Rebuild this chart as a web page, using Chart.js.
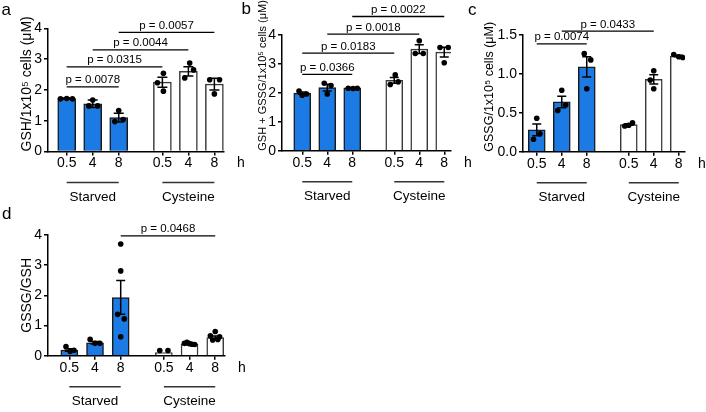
<!DOCTYPE html>
<html><head><meta charset="utf-8">
<script src="https://cdn.jsdelivr.net/npm/chart.js@4"></script>
<style>
html,body{margin:0;padding:0;background:#fff;}
#wrap{position:relative;width:706px;height:412px;overflow:hidden;background:#fff;}
canvas{position:absolute;}
</style></head><body>
<div id="wrap">
<canvas id="ca" style="left:0px;top:0px" width="250" height="212"></canvas>
<canvas id="cb" style="left:235px;top:0px" width="240" height="212"></canvas>
<canvas id="cc" style="left:462px;top:0px" width="244" height="212"></canvas>
<canvas id="cd" style="left:0px;top:205px" width="250" height="207"></canvas>
</div>
<script>
// ---- shared categories ----
const groups = ['Starved', 'Cysteine'];
const tickLabels = ['0.5', '4', '8', '0.5', '4', '8'];
const unitLabel = 'h';
const xPos = [0, 1, 2, 3.68, 4.68, 5.68];

// ---- panel a: GSH ----
const aMean = [1.72, 1.55, 1.10, 2.25, 2.60, 2.19];
const aSem  = [0.02, 0.12, 0.14, 0.16, 0.15, 0.19];
const aDots = [[1.71, 1.72, 1.71], [1.67, 1.48, 1.48], [1.33, 0.97, 1.04], [2.54, 2.23, 1.96], [2.87, 2.39, 2.65], [2.33, 2.33, 1.87]];
const aJit  = [[-0.24, 0, 0.22], [0, -0.15, 0.19], [0, -0.15, 0.17], [0.04, -0.19, 0.04], [0.05, -0.14, 0.2], [-0.18, 0.2, 0]];
const aP    = [[0, 2, 2.10, 'p = 0.0078'], [0, 3, 2.75, 'p = 0.0315'], [1, 4, 3.30, 'p = 0.0044'], [2, 5, 3.87, 'p = 0.0057']];

// ---- panel b: GSH + GSSG ----
const bMean = [1.99, 2.18, 2.17, 2.43, 3.51, 3.41];
const bSem  = [0.04, 0.12, 0.01, 0.10, 0.15, 0.17];
const bDots = [[2.06, 1.92, 1.96], [2.33, 1.96, 2.25], [2.16, 2.15, 2.16], [2.62, 2.29, 2.38], [3.80, 3.36, 3.36], [3.57, 3.04, 3.57]];
const bJit  = [[-0.13, 0, 0.17], [-0.12, 0, 0.15], [-0.16, 0.03, 0.2], [0.04, -0.16, 0.16], [0, -0.16, 0.16], [-0.17, 0, 0.16]];
const bP    = [[0, 2, 2.64, 'p = 0.0366'], [0, 3, 3.37, 'p = 0.0183'], [1, 4, 4.03, 'p = 0.0018'], [2, 5, 4.64, 'p = 0.0022']];

// ---- panel c: GSSG ----
const cMean = [0.28, 0.64, 1.09, 0.35, 0.93, 1.23];
const cSem  = [0.075, 0.074, 0.13, 0.01, 0.06, 0.01];
const cDots = [[0.43, 0.16, 0.23], [0.79, 0.53, 0.60], [1.26, 1.18, 0.81], [0.33, 0.34, 0.37], [1.04, 0.92, 0.81], [1.25, 1.22, 1.21]];
const cJit  = [[0, -0.13, 0.13], [0, -0.16, 0.16], [-0.1, 0.16, 0], [-0.16, 0, 0.15], [0, -0.14, 0], [-0.2, 0, 0.16]];
const cP    = [[0, 2, 1.385, 'p = 0.0074'], [1, 4, 1.55, 'p = 0.0433']];

// ---- panel d: GSSG/GSH ----
const dMean = [0.19, 0.43, 1.93, 0.10, 0.38, 0.60];
const dSem  = [0.04, 0.04, 0.56, 0, 0.02, 0.05];
const dDots = [[0.30, 0.15, 0.18], [0.54, 0.41, 0.41], [3.70, 2.81, 1.37, 1.22, 0.63], [0.17, 0.17], [0.44, 0.41, 0.40, 0.38, 0.37], [0.80, 0.66, 0.63, 0.52, 0.54]];
const dJit  = [[-0.13, 0.03, 0.18], [-0.19, 0, 0.19], [0, 0, -0.12, 0.14, 0], [-0.16, 0.16], [-0.1, -0.2, 0, 0.1, 0.2], [0, -0.19, 0.17, -0.1, 0.1]];
const dP    = [[2, 5, 3.97, 'p = 0.0468']];

const FONT = "'Liberation Sans', Arial, Helvetica, sans-serif";
const BLUE = '#1c7ae4';

function makePanel(cfg) {
  const canvas = document.getElementById(cfg.id);
  const W = canvas.width, H = canvas.height, A = cfg.area;
  const bars = cfg.mean.map((v, i) => ({x: xPos[i], y: v}));
  const pts = [];
  cfg.dots.forEach((arr, i) => arr.forEach((v, j) => pts.push({x: xPos[i] + cfg.jit[i][j], y: v})));

  const extras = {
    id: 'extras_' + cfg.id,
    afterDatasetDraw(chart, args) {
      if (args.index !== 0) return;
      const {ctx, scales: {x, y}} = chart;
      ctx.save();
      ctx.strokeStyle = '#000'; ctx.lineWidth = 1.5;
      cfg.mean.forEach((m, i) => {
        const s = cfg.sem[i]; if (!s) return;
        const px = x.getPixelForValue(xPos[i]);
        const yt = y.getPixelForValue(m + s), yb = y.getPixelForValue(m - s);
        ctx.beginPath();
        ctx.moveTo(px, yb); ctx.lineTo(px, yt);
        ctx.moveTo(px - cfg.cap, yt); ctx.lineTo(px + cfg.cap, yt);
        ctx.moveTo(px - cfg.cap, yb); ctx.lineTo(px + cfg.cap, yb);
        ctx.stroke();
      });
      ctx.restore();
    },
    afterDraw(chart) {
      const {ctx, chartArea: a, scales: {x, y}} = chart;
      ctx.save();
      ctx.fillStyle = '#000'; ctx.strokeStyle = '#000';
      ctx.lineWidth = 1.3; ctx.font = '11.5px ' + FONT;
      ctx.textAlign = 'center'; ctx.textBaseline = 'alphabetic';
      cfg.brackets.forEach(([f, t, lv, txt]) => {
        const x0 = x.getPixelForValue(xPos[f]), x1 = x.getPixelForValue(xPos[t]);
        const py = y.getPixelForValue(lv);
        ctx.beginPath(); ctx.moveTo(x0, py); ctx.lineTo(x1, py); ctx.stroke();
        ctx.fillText(txt, (x0 + x1) / 2, py - 3.5);
      });
      ctx.lineWidth = 1.5; ctx.strokeStyle = '#333';
      ctx.font = '13.5px ' + FONT; ctx.textBaseline = 'middle';
      groups.forEach((g, k) => {
        const x0 = x.getPixelForValue(xPos[k * 3]), x1 = x.getPixelForValue(xPos[k * 3 + 2]);
        const gy = a.bottom + 31;
        ctx.beginPath(); ctx.moveTo(x0, gy); ctx.lineTo(x1, gy); ctx.stroke();
        ctx.fillText(g, (x0 + x1) / 2, a.bottom + 45.5);
      });
      ctx.font = '14px ' + FONT;
      ctx.fillText(unitLabel, a.right + 17, a.bottom + 12);
      ctx.font = '17px ' + FONT; ctx.textAlign = 'left';
      ctx.fillText(cfg.letter, cfg.letterX, cfg.letterY);
      ctx.restore();
    }
  };

  const tickGrid = {display: true, drawOnChartArea: false, drawTicks: true, tickLength: 4, color: '#000', lineWidth: 1.5, offset: false};
  new Chart(canvas, {
    type: 'bar',
    data: {datasets: [
      {type: 'bar', data: bars, order: 2, barThickness: cfg.barW, borderWidth: 1.5,
       backgroundColor: cfg.mean.map((_, i) => i < 3 ? BLUE : '#ffffff'),
       borderColor: cfg.mean.map((_, i) => i < 3 ? '#1a1a1a' : '#3a3a3a')},
      {type: 'scatter', data: pts, order: 1, pointRadius: 2.8, pointBackgroundColor: '#000', pointBorderWidth: 0, showLine: false}
    ]},
    options: {
      responsive: false, animation: false, devicePixelRatio: 1,
      layout: {padding: {left: 0, top: A.top, right: W - A.right, bottom: 0}},
      plugins: {legend: {display: false}, tooltip: {enabled: false}},
      scales: {
        x: {type: 'linear', min: cfg.xmin, max: cfg.xmax, offset: false,
            afterFit: s => { s.height = H - A.bottom; },
            afterBuildTicks: s => { s.ticks = xPos.map(v => ({value: v})); },
            ticks: {autoSkip: false, maxRotation: 0, minRotation: 0, padding: 1, color: '#000',
                    font: {family: FONT, size: 14, lineHeight: 1}, callback: (v, i) => tickLabels[i]},
            grid: tickGrid,
            border: {display: true, color: '#000', width: 1.5}},
        y: {type: 'linear', min: 0, max: cfg.ymax,
            afterFit: s => { s.width = A.left; },
            ticks: {stepSize: cfg.step, padding: 2, color: '#000', font: {family: FONT, size: 14},
                    callback: v => cfg.fmt(v)},
            grid: tickGrid,
            border: {display: true, color: '#000', width: 1.5},
            title: {display: true, text: cfg.title, align: cfg.titleAlign, color: '#000',
                    font: {family: FONT, size: cfg.titleSize, lineHeight: 1.2},
                    padding: {top: cfg.titlePad, bottom: 0}}}
      }
    },
    plugins: [extras]
  });
}

const intFmt = v => String(v);
const decFmt = v => v.toFixed(1);

makePanel({id: 'ca', mean: aMean, sem: aSem, dots: aDots, jit: aJit, brackets: aP,
  area: {left: 48, right: 224, top: 28.3, bottom: 151.5}, xmin: -0.72, xmax: 6.05, ymax: 4, step: 1, fmt: intFmt,
  title: 'GSH/1x10\u2075 cells (\u03bcM)', titleAlign: 'start', titleSize: 14, titlePad: 18.6,
  letter: 'a', letterX: 1.5, letterY: 10, barW: 18, cap: 5});

makePanel({id: 'cb', mean: bMean, sem: bSem, dots: bDots, jit: bJit, brackets: bP,
  area: {left: 47, right: 216, top: 35, bottom: 150.7}, xmin: -0.81, xmax: 5.95, ymax: 4, step: 1, fmt: intFmt,
  title: 'GSH + GSSG/1x10\u2075 cells (\u03bcM)', titleAlign: 'start', titleSize: 11, titlePad: 21.5,
  letter: 'b', letterX: 6.5, letterY: 9.5, barW: 17, cap: 4.5});

makePanel({id: 'cc', mean: cMean, sem: cSem, dots: cDots, jit: cJit, brackets: cP,
  area: {left: 61, right: 223, top: 35, bottom: 151.7}, xmin: -0.55, xmax: 5.93, ymax: 1.5, step: 0.5, fmt: decFmt,
  title: 'GSSG/1x10\u2075 cells (\u03bcM)', titleAlign: 'start', titleSize: 12.5, titlePad: 20.5,
  letter: 'c', letterX: 6, letterY: 10.5, barW: 17, cap: 4.5});

makePanel({id: 'cd', mean: dMean, sem: dSem, dots: dDots, jit: dJit, brackets: dP,
  area: {left: 48, right: 225, top: 30, bottom: 150.7}, xmin: -0.83, xmax: 6.06, ymax: 4, step: 1, fmt: intFmt,
  title: 'GSSG/GSH', titleAlign: 'center', titleSize: 14, titlePad: 18.6,
  letter: 'd', letterX: 2, letterY: 9, barW: 17, cap: 4.5});
</script>
</body></html>
